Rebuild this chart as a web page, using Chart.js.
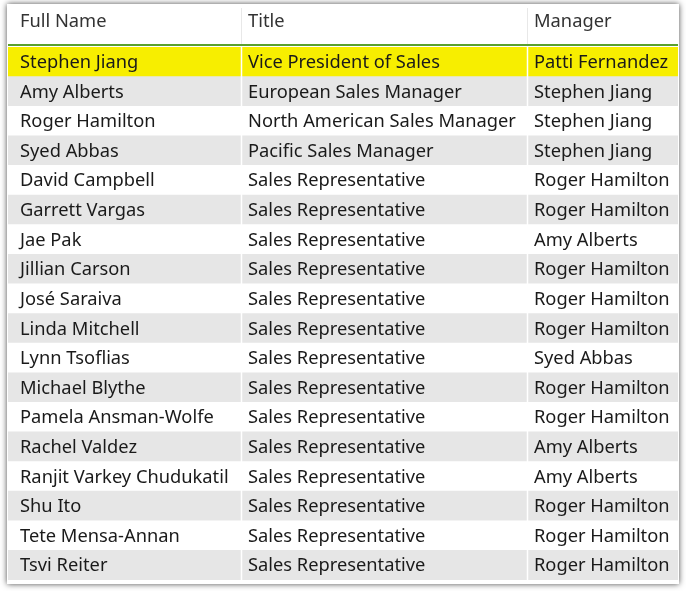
<!DOCTYPE html>
<html><head><meta charset="utf-8">
<script src="https://cdn.jsdelivr.net/npm/chart.js@4/dist/chart.umd.min.js"></script>
<style>html,body{margin:0;padding:0;background:#fff}#w{width:686px;height:591px}</style>
</head><body><div id="w"><canvas id="c"></canvas></div>
<script>
const headers = ["Full Name", "Title", "Manager"];
const names = ["Stephen Jiang","Amy Alberts","Roger Hamilton","Syed Abbas","David Campbell","Garrett Vargas","Jae Pak","Jillian Carson","José Saraiva","Linda Mitchell","Lynn Tsoflias","Michael Blythe","Pamela Ansman-Wolfe","Rachel Valdez","Ranjit Varkey Chudukatil","Shu Ito","Tete Mensa-Annan","Tsvi Reiter"];
const titles = ["Vice President of Sales","European Sales Manager","North American Sales Manager","Pacific Sales Manager","Sales Representative","Sales Representative","Sales Representative","Sales Representative","Sales Representative","Sales Representative","Sales Representative","Sales Representative","Sales Representative","Sales Representative","Sales Representative","Sales Representative","Sales Representative","Sales Representative"];
const managers = ["Patti Fernandez","Stephen Jiang","Stephen Jiang","Stephen Jiang","Roger Hamilton","Roger Hamilton","Amy Alberts","Roger Hamilton","Roger Hamilton","Roger Hamilton","Syed Abbas","Roger Hamilton","Roger Hamilton","Amy Alberts","Amy Alberts","Roger Hamilton","Roger Hamilton","Roger Hamilton"];
const colEdges = [0, 233, 519, 670];
const highlightRow = 0;

const FONT = '18.3px "Noto Sans", "Open Sans", sans-serif';
const textInset = [12, 7, 7];
const rowColor = names.map((n,i)=> i===highlightRow ? '#f7ee00' : (i%2===1 ? '#e6e6e6' : '#ffffff'));

const tablePlugin = {
  id:'table',
  beforeDraw(chart){
    const ctx=chart.ctx;
    ctx.save();
    ctx.shadowColor='rgba(0,0,0,0.7)';ctx.shadowBlur=6;
    ctx.fillStyle='#fff';ctx.fillRect(7,4,672,580);
    ctx.restore();
  },
  afterDatasetsDraw(chart){
    const ctx=chart.ctx, x=chart.scales.x, y=chart.scales.y, a=chart.chartArea;
    ctx.save();
    ctx.strokeStyle='#ffffff';ctx.lineWidth=1.5;
    for(let k=1;k<colEdges.length-1;k++){const px=Math.round(x.getPixelForValue(colEdges[k]))+0.5;ctx.beginPath();ctx.moveTo(px,a.top);ctx.lineTo(px,a.bottom);ctx.stroke();}
    ctx.strokeStyle='#e8e8e8';ctx.lineWidth=1;
    for(let k=1;k<colEdges.length-1;k++){const px=Math.round(x.getPixelForValue(colEdges[k]))+0.5;ctx.beginPath();ctx.moveTo(px,8);ctx.lineTo(px,a.top-3);ctx.stroke();}
    ctx.strokeStyle='#5aa02c';ctx.lineWidth=2;ctx.beginPath();ctx.moveTo(a.left,a.top-2);ctx.lineTo(a.right,a.top-2);ctx.stroke();
    ctx.font=FONT;ctx.textBaseline='middle';
    ctx.fillStyle='#333';
    headers.forEach((h,k)=>ctx.fillText(h,x.getPixelForValue(colEdges[k])+textInset[k],22));
    ctx.fillStyle='#1a1a1a';
    const cols=[names,titles,managers];
    names.forEach((n,i)=>{
      const py=y.getPixelForValue(i)+1;
      cols.forEach((c,k)=>ctx.fillText(c[i],x.getPixelForValue(colEdges[k])+textInset[k],py));
    });
    ctx.restore();
  }
};

new Chart(document.getElementById('c'),{
  type:'bar',
  data:{labels:names,datasets:[{data:names.map(()=>[colEdges[0],colEdges[colEdges.length-1]]),backgroundColor:rowColor,borderWidth:0,barPercentage:1,categoryPercentage:1}]},
  options:{indexAxis:'y',responsive:true,maintainAspectRatio:false,animation:false,
    layout:{padding:{left:8,right:8,top:47,bottom:11}},
    plugins:{legend:{display:false},tooltip:{enabled:false}},
    scales:{x:{type:'linear',min:colEdges[0],max:colEdges[colEdges.length-1],display:false},
            y:{type:'category',display:false,offset:true}}},
  plugins:[tablePlugin]
});
</script></body></html>
